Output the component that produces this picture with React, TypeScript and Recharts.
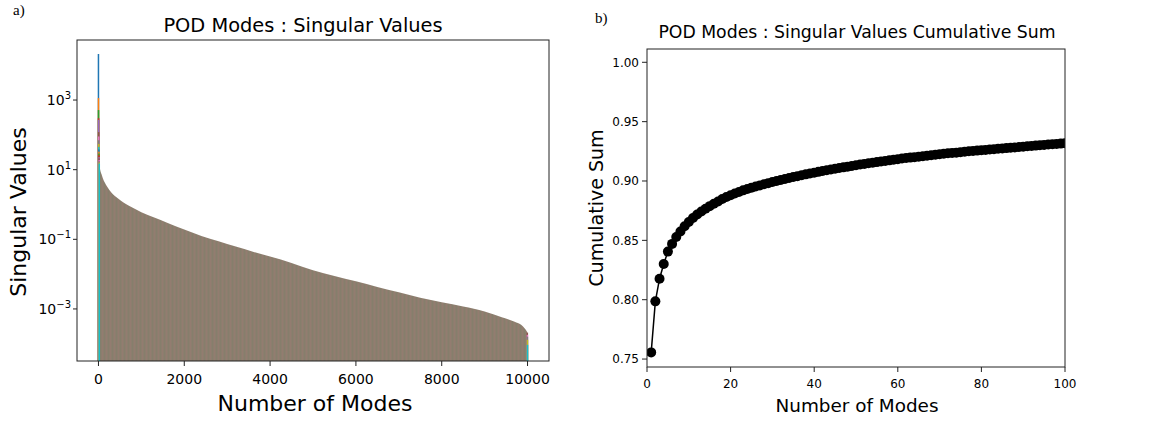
import React from "react";
import { Area, Bar, ComposedChart, Line, LineChart, XAxis, YAxis } from "recharts";

const FONT = "DejaVu Sans, Verdana, sans-serif";
const TAB10 = ["#1f77b4", "#ff7f0e", "#2ca02c", "#d62728", "#9467bd", "#8c564b", "#e377c2", "#7f7f7f", "#bcbd22", "#17becf"];

// (a) leading modes: the coloured spike at x = 0
const headModes = [0, 1, 2, 3, 4, 5, 6, 7, 8, 9, 10, 11, 12, 13, 14, 15, 16, 17, 18, 19];
const headValues = [21000, 1140, 515, 300, 270, 120, 90, 70, 55, 45, 38, 33, 29, 26, 23, 21, 19, 17.5, 16, 15];

// (a) body of the spectrum, read along the top edge of the filled region
const curveModes = [20, 40, 70, 100, 150, 200, 300, 450, 600, 800, 1000, 1300, 1600, 2000, 2400, 2800, 3200, 3600, 4000, 4500, 5000, 5500, 6000, 6500, 7000, 7500, 8000, 8500, 9000, 9400, 9700, 9850, 9930, 9970, 9990];
const curveValues = [14, 10, 7.5, 5.8, 4.2, 3.3, 2.2, 1.5, 1.1, 0.8, 0.6, 0.42, 0.3, 0.19, 0.125, 0.088, 0.062, 0.044, 0.032, 0.021, 0.013, 0.0088, 0.0062, 0.0043, 0.003, 0.0021, 0.00155, 0.00118, 0.00085, 0.00058, 0.00043, 0.00035, 0.00028, 0.00024, 0.00022];

// (a) last modes, dropping off at 10000
const tailModes = [9995, 9996, 9997, 9998, 9999];
const tailValues = [0.00021, 0.00018, 0.00016, 0.00013, 0.000093];

const svTicksX = [0, 2000, 4000, 6000, 8000, 10000];
const svTicksY = [1e-3, 1e-1, 1e1, 1e3];

// (b) cumulative sum for modes 1..100
const cumValues = [
  0.7556, 0.7986, 0.8177, 0.83, 0.8405, 0.847, 0.8528, 0.8575, 0.8618, 0.8655,
  0.8688, 0.8717, 0.8743, 0.8766, 0.8788, 0.8808, 0.8828, 0.8848, 0.8865, 0.888,
  0.8895, 0.8908, 0.8921, 0.8933, 0.8944, 0.8954, 0.8963, 0.8973, 0.8982, 0.8991,
  0.9, 0.9009, 0.9017, 0.9025, 0.9033, 0.9041, 0.9049, 0.9056, 0.9063, 0.907,
  0.9077, 0.9084, 0.9091, 0.9097, 0.9103, 0.9109, 0.9115, 0.9121, 0.9127, 0.9133,
  0.9139, 0.9144, 0.9149, 0.9154, 0.9159, 0.9164, 0.9169, 0.9174, 0.9179, 0.9184,
  0.9189, 0.9193, 0.9197, 0.9201, 0.9205, 0.9209, 0.9213, 0.9217, 0.9221, 0.9225,
  0.9229, 0.9233, 0.9236, 0.9239, 0.9243, 0.9246, 0.925, 0.9253, 0.9256, 0.9259,
  0.9262, 0.9265, 0.9268, 0.9271, 0.9274, 0.9277, 0.928, 0.9283, 0.9286, 0.9289,
  0.9292, 0.9295, 0.9298, 0.9301, 0.9304, 0.9307, 0.931, 0.9312, 0.9315, 0.9318,
];
const cumTicksX = [0, 20, 40, 60, 80, 100];
const cumTicksY = [0.75, 0.8, 0.85, 0.9, 0.95, 1.0];

type Row = { mode: number; sv?: number; spike?: number };

const svRows: Row[] = [
  ...headModes.map((m, i) => ({ mode: m, spike: headValues[i] })),
  ...curveModes.map((m, i) => ({ mode: m, sv: curveValues[i] })),
  ...tailModes.map((m, i) => ({ mode: m, spike: tailValues[i] })),
].sort((a, b) => a.mode - b.mode);

const cumRows = cumValues.map((v, i) => ({ mode: i + 1, cum: v }));

// bars are far thinner than a pixel on this axis, so draw each one 1.5px wide
function SpikeBar(props: any) {
  const { x, y, width, height, payload } = props;
  if (!Number.isFinite(x) || !Number.isFinite(y) || !Number.isFinite(height) || height <= 0) return null;
  return <rect x={x + width / 2 - 0.75} y={y} width={1.5} height={height} fill={TAB10[payload.mode % 10]} />;
}

function PowerTick({ x, y, payload }: any) {
  const exp = Math.round(Math.log10(payload.value));
  const s = exp < 0 ? "\u2212" + Math.abs(exp) : String(exp);
  return (
    <text x={x} y={y} dy="0.36em" textAnchor="end" fontSize={14} fontFamily={FONT} fill="#000">
      10
      <tspan dy={-6} fontSize={10}>
        {s}
      </tspan>
    </text>
  );
}

const tickStyle = (size: number) => ({ fontSize: size, fontFamily: FONT, fill: "#000" });

export default function App() {
  return (
    <div style={{ position: "absolute", left: 0, top: 0, width: 1151, height: 425, background: "#fff" }}>
      <div style={{ position: "absolute", left: 0, top: 0 }}>
        <ComposedChart width={560} height={425} data={svRows} margin={{ top: 40, right: 11, bottom: 34, left: 17 }}>
          <defs>
            <pattern id="svFill" width="4" height="8" patternUnits="userSpaceOnUse">
              <rect width="4" height="8" fill="#8c7e6e" />
              <rect x="0" width="1" height="8" fill="#867e6c" />
              <rect x="2" width="1" height="8" fill="#937c70" />
            </pattern>
          </defs>
          <XAxis
            dataKey="mode"
            type="number"
            domain={[-500, 10500]}
            ticks={svTicksX}
            allowDataOverflow
            axisLine={false}
            tickSize={5}
            tickMargin={8}
            tickLine={{ stroke: "#222" }}
            tick={tickStyle(14)}
            height={30}
          />
          <YAxis
            type="number"
            scale="log"
            domain={[3.2e-5, 5.3e4]}
            ticks={svTicksY}
            allowDataOverflow
            axisLine={false}
            tickSize={4}
            tickMargin={2}
            tickLine={{ stroke: "#222" }}
            tick={<PowerTick />}
            width={60}
          />
          <Area
            dataKey="sv"
            type="monotone"
            baseValue="dataMin"
            connectNulls
            stroke="none"
            fill="url(#svFill)"
            fillOpacity={1}
            isAnimationActive={false}
          />
          <Bar dataKey="spike" barSize={2} shape={<SpikeBar />} isAnimationActive={false} />
        </ComposedChart>
      </div>

      <div style={{ position: "absolute", left: 560, top: 0 }}>
        <LineChart width={591} height={425} data={cumRows} margin={{ top: 49, right: 86, bottom: 28, left: 37 }}>
          <XAxis
            dataKey="mode"
            type="number"
            domain={[0, 100]}
            ticks={cumTicksX}
            allowDataOverflow
            axisLine={false}
            tickSize={5}
            tickMargin={7}
            tickLine={{ stroke: "#222" }}
            tick={tickStyle(12)}
            height={30}
          />
          <YAxis
            type="number"
            domain={[0.7433, 1.0112]}
            ticks={cumTicksY}
            allowDataOverflow
            axisLine={false}
            tickSize={5}
            tickMargin={3}
            tickLine={{ stroke: "#222" }}
            tick={tickStyle(12)}
            tickFormatter={(v) => Number(v).toFixed(2)}
            width={50}
          />
          <Line
            dataKey="cum"
            type="linear"
            stroke="#000"
            strokeWidth={1.5}
            dot={{ r: 5, fill: "#000", stroke: "#000", strokeWidth: 0 }}
            activeDot={false}
            isAnimationActive={false}
          />
        </LineChart>
      </div>

      <svg width={1151} height={425} style={{ position: "absolute", left: 0, top: 0, pointerEvents: "none" }}>
        <rect x={77} y={40} width={472} height={321} fill="none" stroke="#222" strokeWidth={1} />
        <rect x={647} y={49} width={418} height={318} fill="none" stroke="#222" strokeWidth={1} />

        <text x={13} y={15} fontFamily="Liberation Serif, serif" fontSize={15} fill="#000">a)</text>
        <text x={595} y={23} fontFamily="Liberation Serif, serif" fontSize={15} fill="#000">b)</text>

        <text x={303} y={32} textAnchor="middle" fontFamily={FONT} fontSize={19.4} fill="#000">
          POD Modes : Singular Values
        </text>
        <text x={315} y={411} textAnchor="middle" fontFamily={FONT} fontSize={22} fill="#000">
          Number of Modes
        </text>
        <text x={26} y={212} transform="rotate(-90 26 212)" textAnchor="middle" fontFamily={FONT} fontSize={22} fill="#000">
          Singular Values
        </text>

        <text x={857} y={37.5} textAnchor="middle" fontFamily={FONT} fontSize={17.3} fill="#000">
          POD Modes : Singular Values Cumulative Sum
        </text>
        <text x={857} y={411.5} textAnchor="middle" fontFamily={FONT} fontSize={18.4} fill="#000">
          Number of Modes
        </text>
        <text x={603} y={208} transform="rotate(-90 603 208)" textAnchor="middle" fontFamily={FONT} fontSize={19} fill="#000">
          Cumulative Sum
        </text>
      </svg>
    </div>
  );
}
